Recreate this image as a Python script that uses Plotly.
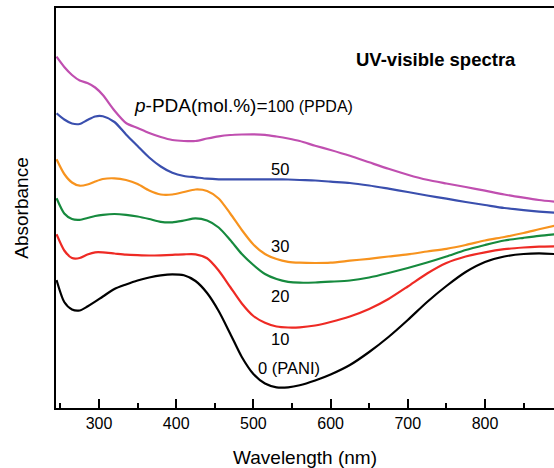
import plotly.graph_objects as go

wavelength = [245, 255, 265, 275, 285, 295, 305, 320, 335, 350, 365, 380, 395, 410, 425,
              440, 455, 470, 485, 500, 515, 530, 545, 560, 580, 600, 625, 650, 675, 700,
              725, 750, 775, 800, 825, 850, 870, 890]

abs_ppda100 = [3.513, 3.41, 3.33, 3.275, 3.25, 3.205, 3.13, 2.975, 2.85, 2.80, 2.75, 2.71,
               2.68, 2.67, 2.67, 2.695, 2.717, 2.73, 2.735, 2.737, 2.732, 2.715, 2.695, 2.67,
               2.623, 2.58, 2.522, 2.457, 2.392, 2.333, 2.282, 2.245, 2.21, 2.173, 2.135,
               2.103, 2.08, 2.063]
abs_ppda50 = [2.947, 2.885, 2.845, 2.84, 2.88, 2.915, 2.917, 2.86, 2.736, 2.62, 2.505, 2.415,
              2.352, 2.32, 2.307, 2.293, 2.287, 2.287, 2.287, 2.287, 2.287, 2.287, 2.285, 2.28,
              2.275, 2.263, 2.25, 2.225, 2.193, 2.16, 2.125, 2.093, 2.06, 2.03, 2.00, 1.978,
              1.964, 1.953]
abs_ppda30 = [2.487, 2.34, 2.255, 2.223, 2.235, 2.265, 2.29, 2.297, 2.28, 2.24, 2.175, 2.135,
              2.135, 2.16, 2.185, 2.17, 2.095, 1.945, 1.78, 1.635, 1.54, 1.49, 1.462, 1.453,
              1.45, 1.453, 1.473, 1.492, 1.515, 1.537, 1.565, 1.592, 1.63, 1.675, 1.71, 1.75,
              1.787, 1.823]
abs_ppda20 = [2.097, 1.945, 1.89, 1.882, 1.90, 1.92, 1.932, 1.94, 1.932, 1.915, 1.89, 1.862,
              1.857, 1.875, 1.897, 1.875, 1.805, 1.68, 1.54, 1.43, 1.34, 1.29, 1.262, 1.253,
              1.255, 1.263, 1.275, 1.305, 1.35, 1.40, 1.455, 1.515, 1.58, 1.63, 1.675, 1.702,
              1.722, 1.737]
abs_ppda10 = [1.737, 1.575, 1.50, 1.50, 1.535, 1.557, 1.557, 1.545, 1.533, 1.528, 1.525, 1.527,
              1.532, 1.537, 1.537, 1.497, 1.375, 1.21, 1.045, 0.92, 0.853, 0.815, 0.805, 0.807,
              0.825, 0.86, 0.915, 0.99, 1.09, 1.215, 1.345, 1.45, 1.515, 1.557, 1.588,
              1.605, 1.613, 1.617]
abs_pani = [1.28, 1.06, 0.985, 0.975, 1.015, 1.063, 1.115, 1.19, 1.235, 1.275, 1.305, 1.327,
            1.337, 1.327, 1.27, 1.15, 0.97, 0.743, 0.51, 0.34, 0.245, 0.207, 0.207, 0.227,
            0.275, 0.335, 0.43, 0.56, 0.71, 0.88, 1.06, 1.22, 1.36, 1.46, 1.515, 1.54,
            1.546, 1.54]

series = [
    ("100 (PPDA)", abs_ppda100, "#C04FB0"),
    ("50", abs_ppda50, "#3A4FAE"),
    ("30", abs_ppda30, "#F7931E"),
    ("20", abs_ppda20, "#168A3E"),
    ("10", abs_ppda10, "#EE2A24"),
    ("0 (PANI)", abs_pani, "#000000"),
]

# label positions (wavelength, absorbance)
label_text = ["50", "30", "20", "10", "0 (PANI)"]
label_x = [534.5, 534.5, 534.5, 534.5, 546.0]
label_y = [2.39, 1.62, 1.12, 0.69, 0.40]

FONT = "Liberation Sans, Arial, sans-serif"

fig = go.Figure()
for name, ys, col in series:
    fig.add_trace(go.Scatter(x=wavelength, y=ys, mode="lines", name=name,
                             line=dict(color=col, width=2.2, shape="spline", smoothing=0.7),
                             showlegend=False))

for t, x, y in zip(label_text, label_x, label_y):
    fig.add_annotation(x=x, y=y, text=t, showarrow=False,
                       font=dict(family=FONT, size=16.5, color="#000"))

fig.add_annotation(x=342.4, y=3.03, xanchor="left",
                   text="<i>p</i>-PDA(mol.%)=<span style='font-size:16px'>100 (PPDA)</span>",
                   showarrow=False, font=dict(family=FONT, size=19, color="#000"))
fig.add_annotation(x=736.5, y=3.49, text="<b>UV-visible spectra</b>", showarrow=False,
                   font=dict(family=FONT, size=18.5, color="#000"))

fig.update_layout(
    width=554, height=468,
    margin=dict(l=56, r=0, t=8, b=60),
    paper_bgcolor="white", plot_bgcolor="white",
    font=dict(family=FONT, color="#000"),
    xaxis=dict(range=[244.3, 889.4], showgrid=False, zeroline=False,
               showline=True, linecolor="#000", linewidth=2, mirror=True,
               ticks="inside", ticklen=9, tickwidth=1.5, tickcolor="#000",
               tickvals=[300, 400, 500, 600, 700, 800],
               minor=dict(ticks="inside", ticklen=5, tickwidth=1.5, tickcolor="#000",
                          tickvals=[250, 350, 450, 550, 650, 750, 850]),
               tickfont=dict(family=FONT, size=16, color="#000"),
               title=dict(text="Wavelength (nm)", font=dict(family=FONT, size=19, color="#000"),
                          standoff=20)),
    yaxis=dict(range=[0, 4], showgrid=False, zeroline=False,
               showline=True, linecolor="#000", linewidth=2,
               ticks="", showticklabels=False,
               title=dict(text="Absorbance", font=dict(family=FONT, size=19, color="#000"),
                          standoff=20)),
)

fig.write_html("out.html")
